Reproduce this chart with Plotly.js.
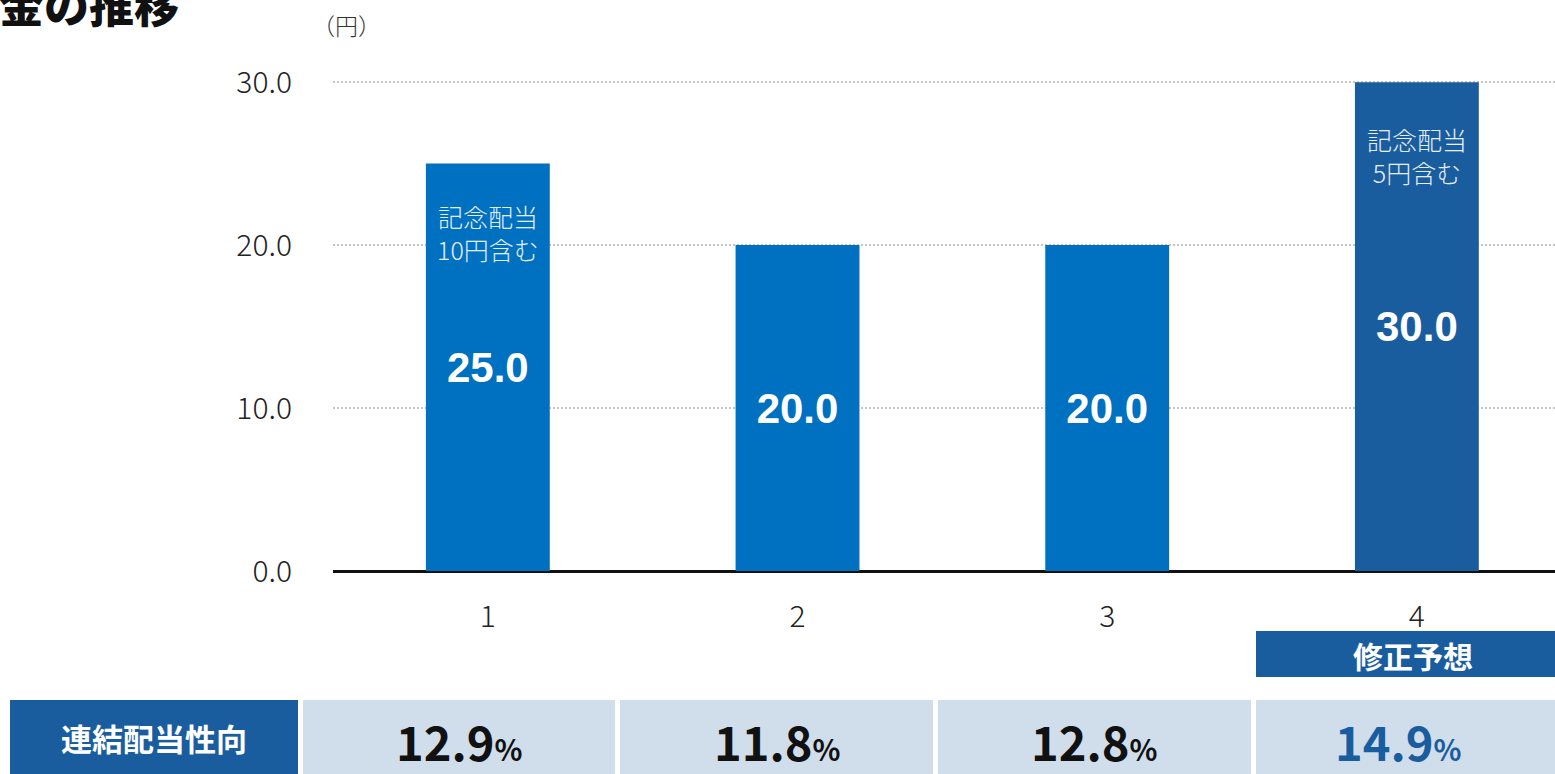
<!DOCTYPE html>
<html>
<head>
<meta charset="utf-8">
<script src="https://cdn.plot.ly/plotly-3.0.1.min.js"></script>
<style>html,body{margin:0;padding:0;background:#fff;}#chart{width:1555px;height:774px;}</style>
</head>
<body>
<div id="chart"></div>
<script>
// ---- data ----
const categories = [1, 2, 3, 4];
const dividends = [25.0, 20.0, 20.0, 30.0];
const payoutRatios = ["12.9", "11.8", "12.8", "14.9"];
const barNotes = ["記念配当<br>10円含む", "", "", "記念配当<br>5円含む"];
const tickValues = [0, 10, 20, 30];
const tickLabels = ["0.0", "10.0", "20.0", "30.0"];
const titleText = "配当金の推移";
const unitText = "（円）";
const forecastLabel = "修正予想";
const rowHeader = "連結配当性向";

// ---- layout helpers (pixel -> paper) ----
const W = 1555, H = 774, L = 333, R = 0, T = 74, B = 203;
const PW = W - L - R, PH = H - T - B;
const px = X => (X - L) / PW;
const py = Y => (H - B - Y) / PH;

const JP = '"Noto Sans CJK JP", "Noto Sans", sans-serif';
const barColors = ['#0070c0', '#0070c0', '#0070c0', '#1a5d9f'];
const dark = '#1a5d9f';

const trace = {
  type: 'bar',
  x: categories,
  y: dividends,
  width: 0.4,
  marker: { color: barColors, line: { width: 0 } },
  text: dividends.map(v => v.toFixed(1)),
  textposition: 'inside',
  insidetextanchor: 'middle',
  constraintext: 'none',
  textangle: 0,
  textfont: { family: '"Liberation Sans", Arial, sans-serif', size: 42, color: '#ffffff', weight: 700 },
  hoverinfo: 'skip'
};

const shapes = [];
const annotations = [];

// title & unit
annotations.push({ xref: 'paper', yref: 'paper', x: px(181), y: py(4), xanchor: 'right', yanchor: 'middle',
  text: titleText, showarrow: false, font: { family: JP, size: 45, color: '#111', weight: 900 } });
annotations.push({ xref: 'paper', yref: 'paper', x: px(346), y: py(25), xanchor: 'center', yanchor: 'middle',
  text: unitText, showarrow: false, font: { family: JP, size: 23, color: '#333', weight: 300 } });

// notes inside bars
const noteY = [232, null, null, 155];
categories.forEach((c, i) => {
  if (barNotes[i]) {
    annotations.push({ xref: 'x', yref: 'paper', x: c, y: py(noteY[i]), xanchor: 'center', yanchor: 'middle',
      text: barNotes[i], showarrow: false, font: { family: JP, size: 25, color: '#e6eef8', weight: 300 } });
  }
});

// forecast label box
shapes.push({ type: 'rect', xref: 'paper', yref: 'paper', x0: px(1256), x1: px(1560), y0: py(677), y1: py(631),
  fillcolor: dark, line: { width: 0 }, layer: 'above' });
annotations.push({ xref: 'paper', yref: 'paper', x: px(1413), y: py(655), xanchor: 'center', yanchor: 'middle',
  text: forecastLabel, showarrow: false, font: { family: JP, size: 30, color: '#ffffff', weight: 700 } });

// table row
shapes.push({ type: 'rect', xref: 'paper', yref: 'paper', x0: px(10), x1: px(298), y0: py(780), y1: py(700),
  fillcolor: dark, line: { width: 0 } });
annotations.push({ xref: 'paper', yref: 'paper', x: px(154), y: py(738), xanchor: 'center', yanchor: 'middle',
  text: rowHeader, showarrow: false, font: { family: JP, size: 31, color: '#ffffff', weight: 700 } });
const cellX = [[303, 615], [620, 933], [938, 1251], [1256, 1560]];
const cellTextX = [459, 777, 1094, 1398];
payoutRatios.forEach((v, i) => {
  shapes.push({ type: 'rect', xref: 'paper', yref: 'paper', x0: px(cellX[i][0]), x1: px(cellX[i][1]), y0: py(780), y1: py(700),
    fillcolor: '#d0deeb', line: { width: 0 } });
  annotations.push({ xref: 'paper', yref: 'paper', x: px(cellTextX[i]), y: py(740), xanchor: 'center', yanchor: 'middle',
    text: v + '<span style="font-size:29px">%</span>', showarrow: false,
    font: { family: JP, size: 47, color: i === 3 ? dark : '#111111', weight: 700 } });
});

const layout = {
  width: W, height: H,
  margin: { l: L, r: R, t: T, b: B, pad: 0 },
  paper_bgcolor: '#ffffff', plot_bgcolor: '#ffffff',
  showlegend: false,
  bargap: 0.6,
  font: { family: JP, color: '#222' },
  xaxis: {
    type: 'linear', range: [0.5, 4.446], tickvals: categories, ticktext: categories.map(String),
    showgrid: false, zeroline: false, showline: false, ticks: '',
    ticklabelstandoff: 25,
    tickfont: { family: JP, size: 30, color: '#222', weight: 300 }, fixedrange: true
  },
  yaxis: {
    range: [0, 30.5], tickvals: tickValues, ticktext: tickLabels,
    showgrid: true, gridcolor: '#c4c4c4', gridwidth: 2, griddash: '2px,2px',
    zeroline: true, zerolinecolor: '#111', zerolinewidth: 3,
    showline: false, ticks: '', ticklabelstandoff: 40,
    tickfont: { family: JP, size: 30, color: '#222', weight: 300 }, fixedrange: true
  },
  shapes: shapes,
  annotations: annotations
};

Plotly.newPlot('chart', [trace], layout, { displayModeBar: false, staticPlot: true });
</script>
</body>
</html>
